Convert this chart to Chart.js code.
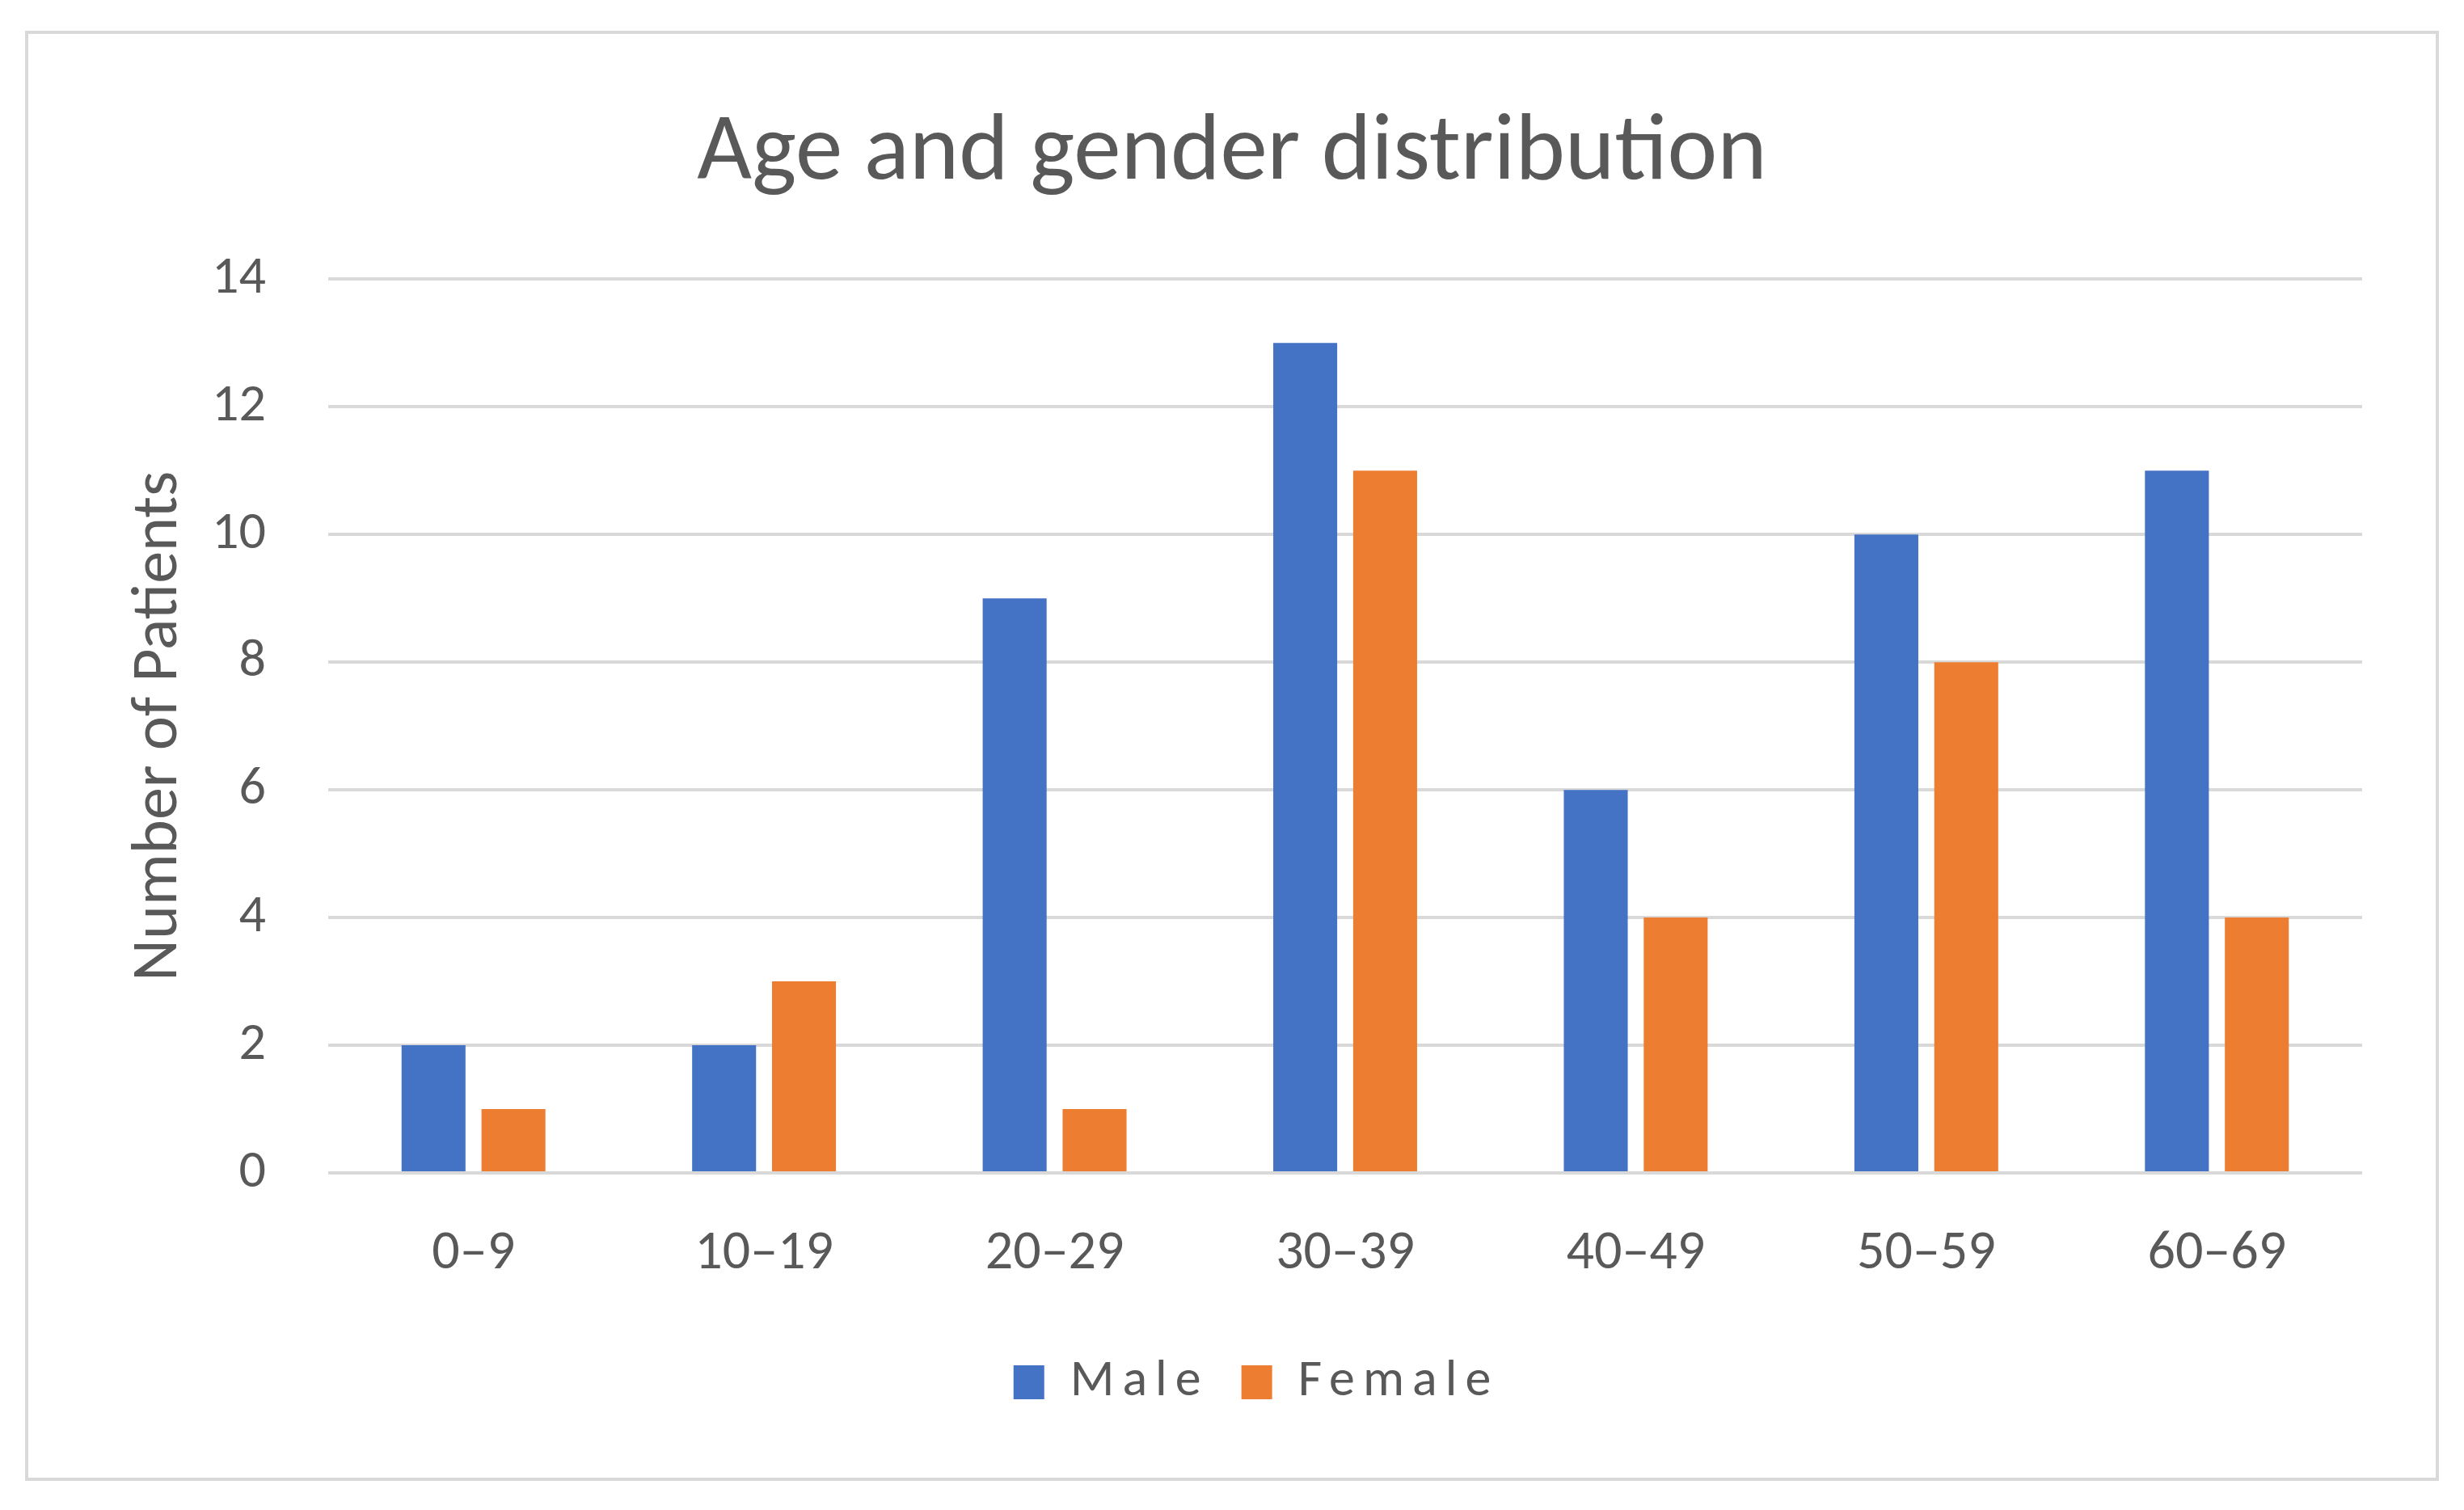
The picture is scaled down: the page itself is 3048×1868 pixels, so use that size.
<!DOCTYPE html>
<html lang="en">
<head>
<meta charset="utf-8">
<title>Age and gender distribution</title>
<script src="https://cdn.jsdelivr.net/npm/chart.js@4.4.1/dist/chart.umd.min.js"></script>
<style>
    html, body { margin: 0; padding: 0; background: #fff; }
    body { width: 3048px; height: 1868px; position: relative; overflow: hidden; }
    .frame {
        position: absolute;
        left: 31px;
        top: 38px;
        width: 2986px;
        height: 1794px;
        box-sizing: border-box;
        border: 4px solid #d9d9d9;
    }
    .chart-box { position: relative; width: 2978px; height: 1786px; }
</style>
</head>
<body>
<div class="frame">
    <div class="chart-box"><canvas id="chartAge"></canvas></div>
</div>
<script>
/* ── Data ── */
const categories = ['0–9', '10–19', '20–29', '30–39', '40–49', '50–59', '60–69'];
const maleValues = [2, 2, 9, 13, 6, 10, 11];
const femaleValues = [1, 3, 1, 11, 4, 8, 4];
const yTicks = [0, 2, 4, 6, 8, 10, 12, 14];

(function () {
    'use strict';

    const FONT = 'Calibri, Carlito, Lato, sans-serif';
    const TEXT = '#595959';
    const GRID = '#d9d9d9';

    /* ── Legend: wider letter spacing + slight shift, like the Excel original ── */
    const legendSpacing = {
        id: 'legendSpacing',
        beforeLayout(chart) {
            const lg = chart.legend;
            if (!lg || lg._spaced) return;
            lg._spaced = true;
            const fit = lg.fit;
            const draw = lg.draw;
            lg.fit = function () {
                const c = this.ctx;
                c.save();
                c.letterSpacing = '10px';
                fit.apply(this, arguments);
                c.restore();
            };
            lg.draw = function () {
                const c = this.ctx;
                c.save();
                c.letterSpacing = '10px';
                c.translate(30, 0);
                draw.apply(this, arguments);
                c.restore();
            };
        },
    };

    function initAgeChart() {
        const ctx = document.getElementById('chartAge');
        if (!ctx) return;

        new Chart(ctx, {
            type: 'bar',
            data: {
                labels: categories,
                datasets: [
                    {
                        label: 'Male',
                        data: maleValues,
                        backgroundColor: '#4472c4',
                        categoryPercentage: 0.55,
                        barPercentage: 0.8,
                    },
                    {
                        label: 'Female',
                        data: femaleValues,
                        backgroundColor: '#ed7d31',
                        categoryPercentage: 0.55,
                        barPercentage: 0.8,
                    },
                ],
            },
            options: {
                responsive: true,
                maintainAspectRatio: false,
                animation: false,
                layout: { padding: { left: 0, right: 0, top: 0, bottom: 76 } },
                scales: {
                    x: {
                        grid: { display: false },
                        border: { display: false },
                        ticks: {
                            color: TEXT,
                            padding: 52,
                            font: { family: FONT, size: 68 },
                        },
                        afterFit: (scale) => { scale.height = 187; },
                    },
                    y: {
                        min: 0,
                        max: 14,
                        afterBuildTicks: (scale) => {
                            scale.ticks = yTicks.map((v) => ({ value: v }));
                        },
                        grid: { color: GRID, lineWidth: 4, drawTicks: false },
                        border: { display: false },
                        ticks: {
                            color: TEXT,
                            padding: 77,
                            font: { family: FONT, size: 66 },
                        },
                        title: {
                            display: true,
                            text: 'Number of Patients',
                            color: TEXT,
                            padding: { top: 115, bottom: 0 },
                            font: { family: FONT, size: 80 },
                        },
                        afterFit: (scale) => { scale.width = 371; },
                    },
                    // empty right-hand strip so the plot stops short of the frame
                    yRight: {
                        position: 'right',
                        grid: { display: false },
                        border: { display: false },
                        ticks: { display: false },
                        afterFit: (scale) => { scale.width = 91; },
                    },
                },
                plugins: {
                    title: {
                        display: true,
                        text: 'Age and gender distribution',
                        color: TEXT,
                        padding: { top: 80, bottom: 83 },
                        font: { family: FONT, size: 117, weight: 'normal' },
                    },
                    legend: {
                        position: 'bottom',
                        labels: {
                            color: TEXT,
                            boxWidth: 38,
                            boxHeight: 42,
                            padding: 40,
                            font: { family: FONT, size: 64 },
                        },
                    },
                    tooltip: { enabled: false },
                },
            },
            plugins: [legendSpacing],
        });
    }

    if (document.readyState === 'loading') {
        document.addEventListener('DOMContentLoaded', initAgeChart);
    } else {
        initAgeChart();
    }
})();
</script>
</body>
</html>
